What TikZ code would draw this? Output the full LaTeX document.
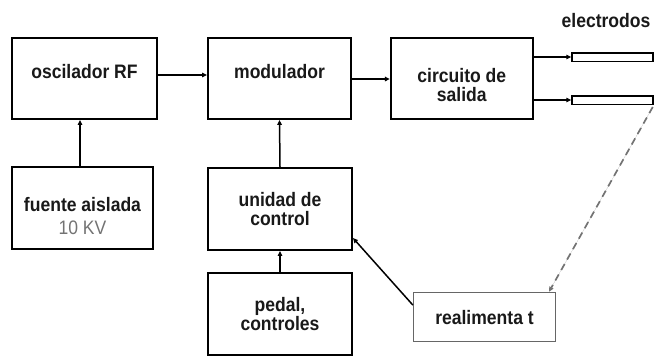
\documentclass[tikz,border=0pt]{standalone}
\usepackage{fontspec}
\setmainfont{Liberation Sans}[FakeStretch=0.9]
\usetikzlibrary{arrows.meta, positioning}

\begin{document}
\begin{tikzpicture}[x=1pt, y=-1pt,
        bloque/.style={draw, line width=1.9pt, minimum width=143pt, minimum height=81pt, inner sep=0pt},
        texto/.style={font=\bfseries\fontsize{19.5}{19}\selectfont, align=center, text=black!90, inner sep=0pt},
        flecha/.style={-{Triangle[length=5pt, width=4.5pt]}, line width=1.5pt},
        electrodo/.style={draw, line width=1.5pt, minimum width=81pt, minimum height=8.5pt, inner sep=0pt}]
        \useasboundingbox (0, 0) rectangle (655, 356);

        % fila de arriba
        \node[bloque, minimum width=145pt] (osc) at (84.5, 78.5) {};
        \node[texto] (osc-t) at (84.5, 72) {oscilador RF};
        \node[bloque] (mod) at (279.5, 78.5) {};
        \node[texto] (mod-t) at (279.5, 72) {modulador};
        \node[bloque, minimum width=142pt] (sal) at (461.8, 78.5) {};
        \node[texto] (sal-t) at (461.8, 85) {circuito de\\salida};

        \node[electrodo] (el1) at (612.5, 57) {};
        \node[electrodo] (el2) at (612.5, 100) {};
        \node[texto] (el-t) at (606, 21) {electrodos};

        \draw[flecha] ([yshift=3.5pt]osc.east) -- ([yshift=3.5pt]mod.west);
        \draw[flecha] ([yshift=-0.5pt]mod.east) -- ([yshift=-0.5pt]sal.west);
        \draw[flecha] ([yshift=21.5pt]sal.east) -- (el1.west);
        \draw[flecha] ([yshift=-21.5pt]sal.east) -- (el2.west);

        % fila de abajo
        \node[bloque, minimum width=141pt, minimum height=82pt] (fue) at (82.5, 208) {};
        \node[texto] (fue-t) at (82.5, 216) {fuente aislada\\[4pt]{\mdseries\color{black!55}10 KV}};
        \node[bloque, minimum width=144pt, minimum height=82pt] (ctl) at (280, 209) {};
        \node[texto] (ctl-t) at (280, 209.5) {unidad de\\control};
        \node[bloque, minimum width=144pt, minimum height=82pt] (ped) at (280, 314) {};
        \node[texto] (ped-t) at (280, 314.5) {pedal,\\controles};
        \node[draw=black!60, line width=1.4pt, minimum width=142pt, minimum height=49pt] (rea) at (484.5, 317) {};
        \node[texto] (rea-t) at (484.5, 318) {realimenta t};

        \draw[flecha] ([xshift=-2.5pt]fue.north) -- ([xshift=-4.5pt]osc.south);
        \draw[flecha] (ctl.north) -- (mod.south);
        \draw[flecha] (ped.north) -- (ctl.south);
        \draw[flecha] ([yshift=12pt]rea.west) -- ([yshift=-29pt]ctl.east);
        \draw[flecha, draw=black!55, fill=black!55, line width=1.7pt, dash pattern=on 7pt off 5pt]
            ([xshift=-1pt, yshift=-2pt]el2.south east) -- ([xshift=64.5pt]rea.north);
    \end{tikzpicture}
\end{document}
